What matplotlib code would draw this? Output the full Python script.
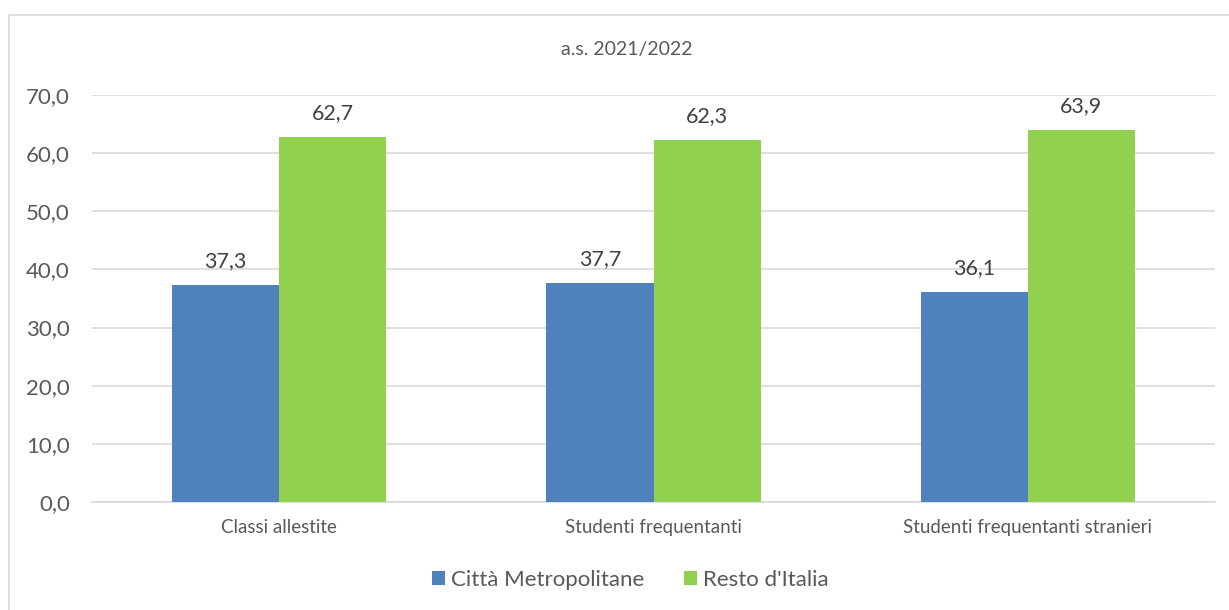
import numpy as np
import matplotlib.pyplot as plt
from matplotlib.patches import Rectangle

categories = ['Classi allestite', 'Studenti frequentanti', 'Studenti frequentanti stranieri']
citta = [37.3, 37.7, 36.1]
resto = [62.7, 62.3, 63.9]
series_names = ['Città Metropolitane', "Resto d'Italia"]
yticks = [0, 10, 20, 30, 40, 50, 60, 70]

text_col = '#595959'
plt.rcParams['font.family'] = ['Lato', 'DejaVu Sans']

fig = plt.figure(figsize=(12.29, 6.10), dpi=100)
ax = fig.add_axes([92 / 1229, 1 - 502 / 610, (1215 - 92) / 1229, (502 - 95) / 610])

# outer chart border
fig.patches.append(Rectangle((9 / 1229, -0.05), 1.1, 1.05 - 15 / 610, transform=fig.transFigure,
                             fill=False, edgecolor='#D9D9D9', linewidth=1.2))

x = np.arange(len(categories))
w = 0.286
b1 = ax.bar(x - w / 2, citta, w, color='#4F81BD', label=series_names[0], zorder=3)
b2 = ax.bar(x + w / 2, resto, w, color='#92D050', label=series_names[1], zorder=3)

for bars in (b1, b2):
    for r in bars:
        v = r.get_height()
        ax.annotate(f'{v:.1f}'.replace('.', ','), (r.get_x() + r.get_width() / 2, v),
                    xytext=(0, 10), textcoords='offset points', ha='center', va='bottom',
                    fontsize=15.5, color='#404040')

ax.set_xlim(-0.5, 2.5)
ax.set_ylim(0, 70)
ax.set_yticks(yticks)
ax.set_yticklabels([f'{t:.1f}'.replace('.', ',') for t in yticks], fontsize=16, color=text_col)
ax.set_xticks(x)
ax.set_xticklabels(categories, fontsize=13.5, color=text_col)
ax.tick_params(axis='both', length=0)
ax.tick_params(axis='y', pad=16)
ax.tick_params(axis='x', pad=12)
ax.grid(axis='y', color='#D9D9D9', linewidth=1.2, zorder=0)
for s in ['top', 'right', 'left']:
    ax.spines[s].set_visible(False)
ax.spines['bottom'].set_color('#D9D9D9')
ax.spines['bottom'].set_linewidth(1.2)

fig.text(627 / 1229, 1 - 50 / 610, 'a.s. 2021/2022', ha='center', va='center', fontsize=14, color=text_col)
fig.legend(loc='center', bbox_to_anchor=(630 / 1229, 1 - 580 / 610), ncol=2, frameon=False,
           fontsize=16, labelcolor=text_col, handlelength=0.6, handleheight=0.6,
           handletextpad=0.25, columnspacing=1.8)

fig.savefig('out.png', dpi=100)
